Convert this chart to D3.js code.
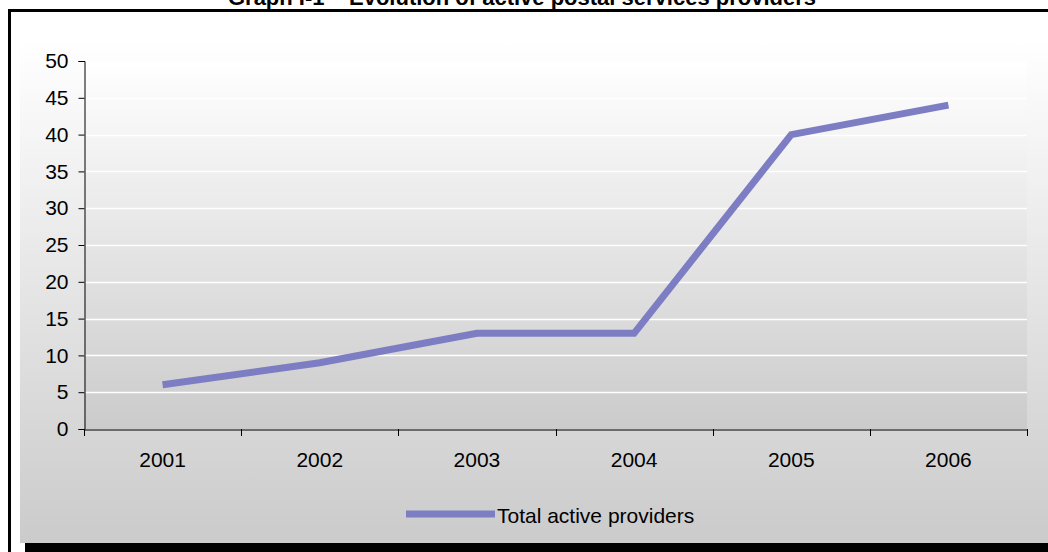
<!DOCTYPE html>
<html>
<head>
<meta charset="utf-8">
<script src="https://cdn.jsdelivr.net/npm/d3@7"></script>
<style>
  html, body { margin: 0; padding: 0; background: #fff; }
  svg { display: block; font-family: "Liberation Sans", Arial, sans-serif; }
</style>
</head>
<body>
<svg id="chart" width="1048" height="552"></svg>
<script>
const years = ["2001", "2002", "2003", "2004", "2005", "2006"];
const providers = [6, 9, 13, 13, 40, 44];
const yTicks = [0, 5, 10, 15, 20, 25, 30, 35, 40, 45, 50];
const seriesName = "Total active providers";
const title = "Graph I-1 \u2013 Evolution of active postal services providers";

const svg = d3.select("#chart");
const W = 1048, H = 552;
const plot = { left: 84, right: 1027, top: 61, bottom: 429 };
const lineColor = "#7d7dc3";
const fs = 21;

const defs = svg.append("defs");
const g1 = defs.append("linearGradient").attr("id", "chartBg").attr("x1", 0).attr("y1", 0).attr("x2", 0).attr("y2", 1);
g1.append("stop").attr("offset", "0%").attr("stop-color", "#ffffff");
g1.append("stop").attr("offset", "100%").attr("stop-color", "#cbcbcb");
const g2 = defs.append("linearGradient").attr("id", "plotBg").attr("x1", 0).attr("y1", 0).attr("x2", 0).attr("y2", 1);
g2.append("stop").attr("offset", "0%").attr("stop-color", "#ffffff");
g2.append("stop").attr("offset", "100%").attr("stop-color", "#cbcbcb");

// Title (partially clipped at top, as in the reference)
svg.append("text").attr("x", 522).attr("y", 5).attr("text-anchor", "middle")
  .attr("font-size", 22).attr("font-weight", "bold").attr("fill", "#000").text(title);

// Frame
svg.append("rect").attr("x", 8).attr("y", 9).attr("width", 3).attr("height", H - 9).attr("fill", "#000");
svg.append("rect").attr("x", 8).attr("y", 9).attr("width", W - 8).attr("height", 3).attr("fill", "#000");

// Chart area
svg.append("rect").attr("x", 20).attr("y", 40).attr("width", W - 20).attr("height", 503).attr("fill", "url(#chartBg)");
svg.append("rect").attr("x", 25).attr("y", 543).attr("width", W - 25).attr("height", 9).attr("fill", "#000");

// Plot area
svg.append("rect").attr("x", plot.left).attr("y", plot.top)
  .attr("width", plot.right - plot.left).attr("height", plot.bottom - plot.top).attr("fill", "url(#plotBg)");

const x = d3.scaleBand().domain(years).range([plot.left, plot.right]).padding(0);
const y = d3.scaleLinear().domain([0, 50]).range([plot.bottom, plot.top]);

// Gridlines
svg.append("g").selectAll("line").data(yTicks.filter(d => d > 0)).join("line")
  .attr("x1", plot.left).attr("x2", plot.right)
  .attr("y1", d => Math.round(y(d)) + 0.5).attr("y2", d => Math.round(y(d)) + 0.5)
  .attr("stroke", "#ffffff").attr("stroke-width", 1.3);

// Y axis
const yAxis = svg.append("g").attr("transform", `translate(${plot.left + 0.5},0)`)
  .call(d3.axisLeft(y).tickValues(yTicks).tickSize(6).tickPadding(10).tickFormat(d3.format("d")));
yAxis.select(".domain").attr("stroke", "#000");
yAxis.selectAll(".tick line").attr("stroke", "#000");
yAxis.selectAll(".tick text").attr("font-size", fs).attr("fill", "#000")
  .attr("font-family", "Liberation Sans, Arial, sans-serif");

// X axis
const xAxis = svg.append("g").attr("transform", `translate(0,${plot.bottom + 0.5})`)
  .call(d3.axisBottom(x).tickSize(0).tickPadding(23));
xAxis.select(".domain").attr("stroke", "#000");
xAxis.selectAll(".tick text").attr("font-size", fs).attr("fill", "#000")
  .attr("font-family", "Liberation Sans, Arial, sans-serif");
const boundaries = years.map(d => x(d)).concat([x(years[years.length - 1]) + x.bandwidth()]);
svg.append("g").selectAll("line").data(boundaries).join("line")
  .attr("x1", d => Math.round(d) + 0.5).attr("x2", d => Math.round(d) + 0.5)
  .attr("y1", plot.bottom).attr("y2", plot.bottom + 7)
  .attr("stroke", "#000");

// Line
const line = d3.line().x((d, i) => x(years[i]) + x.bandwidth() / 2).y(d => y(d));
svg.append("path").datum(providers).attr("d", line)
  .attr("fill", "none").attr("stroke", lineColor).attr("stroke-width", 7)
  .attr("stroke-linejoin", "miter");

// Legend
svg.append("line").attr("x1", 406).attr("x2", 495).attr("y1", 514).attr("y2", 514)
  .attr("stroke", lineColor).attr("stroke-width", 7);
svg.append("text").attr("x", 497).attr("y", 523).attr("font-size", fs).attr("fill", "#000").text(seriesName);
</script>
</body>
</html>
